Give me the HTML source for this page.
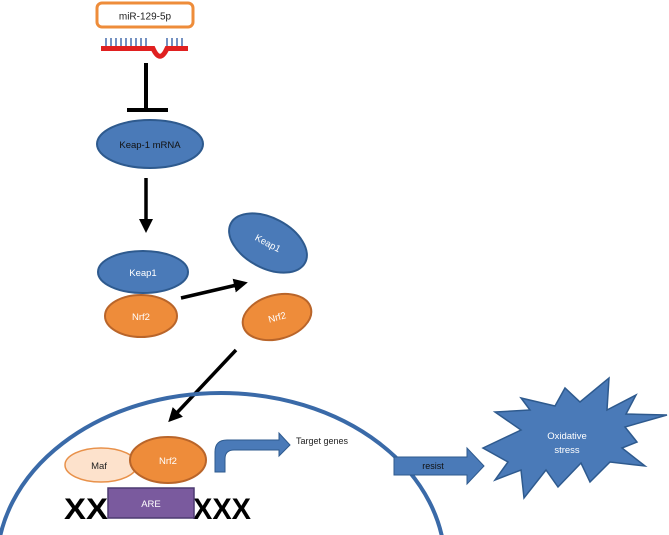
<!DOCTYPE html>
<html><head><style>html,body{margin:0;background:#fff;width:669px;height:535px;overflow:hidden}svg{display:block}</style></head><body>
<svg width="669" height="535" viewBox="0 0 669 535" xmlns="http://www.w3.org/2000/svg" font-family="Liberation Sans, sans-serif">
<defs><marker id="ah" markerWidth="4" markerHeight="4" refX="2" refY="2" orient="auto" markerUnits="strokeWidth"><path d="M0,0 L4,2 L0,4 z" fill="#000"/></marker></defs>
<rect x="97" y="3" width="96" height="24" rx="5" fill="#fff" stroke="#ee8c3a" stroke-width="3"/>
<text x="145" y="19.5" font-size="10" text-anchor="middle" fill="#222">miR-129-5p</text>
<g stroke="#2a56a0" stroke-width="1.3">
<path d="M106,46v-8M111,46v-8M116,46v-8M121,46v-8M126,46v-8M131,46v-8M136,46v-8M141,46v-8M146,46v-8M167,46v-8M172,46v-8M177,46v-8M182,46v-8"/></g>
<path d="M101,48.5 H153 Q160,64 167,48.5 H188" fill="none" stroke="#e02020" stroke-width="5"/>
<path d="M146,63 V110 M127,110 H168" stroke="#000" stroke-width="4" fill="none"/>
<ellipse cx="150" cy="144" rx="53" ry="24" fill="#4a7ab8" stroke="#2e5a8e" stroke-width="2"/>
<text x="150" y="148" font-size="9.5" text-anchor="middle" fill="#111">Keap-1 mRNA</text>
<path d="M146,178 V226" stroke="#000" stroke-width="3.5" marker-end="url(#ah)"/>
<ellipse cx="143" cy="272" rx="45" ry="21" fill="#4a7ab8" stroke="#2e5a8e" stroke-width="2"/>
<text x="143" y="276" font-size="9.5" text-anchor="middle" fill="#fff">Keap1</text>
<ellipse cx="141" cy="316" rx="36" ry="21" fill="#ee8c3a" stroke="#b9652a" stroke-width="2"/>
<text x="141" y="320" font-size="9.5" text-anchor="middle" fill="#fff">Nrf2</text>
<path d="M181,298 L241,284" stroke="#000" stroke-width="3.5" marker-end="url(#ah)"/>
<g transform="translate(268,243) rotate(28)"><ellipse rx="42" ry="25" fill="#4a7ab8" stroke="#2e5a8e" stroke-width="2"/><text y="3.5" font-size="9.5" text-anchor="middle" fill="#fff">Keap1</text></g>
<g transform="translate(277,317) rotate(-15)"><ellipse rx="35" ry="22" fill="#ee8c3a" stroke="#b9652a" stroke-width="2"/><text y="3.5" font-size="9.5" text-anchor="middle" fill="#fff">Nrf2</text></g>
<path d="M236,350 L173,417" stroke="#000" stroke-width="3.5" marker-end="url(#ah)"/>
<ellipse cx="221" cy="565" rx="224" ry="172" fill="none" stroke="#3a6aa8" stroke-width="4"/>
<text x="86" y="519" font-size="30" font-weight="bold" fill="#000" text-anchor="middle" textLength="44" lengthAdjust="spacingAndGlyphs">XX</text>
<text x="222" y="519" font-size="30" font-weight="bold" fill="#000" text-anchor="middle" textLength="58" lengthAdjust="spacingAndGlyphs">XXX</text>
<rect x="108" y="488" width="86" height="30" fill="#7a5a9e" stroke="#4c3a70" stroke-width="1.5"/>
<text x="151" y="507" font-size="9.5" text-anchor="middle" fill="#fff">ARE</text>
<ellipse cx="101" cy="465" rx="36" ry="17" fill="#fde2cc" stroke="#e8914a" stroke-width="1.5"/>
<text x="99" y="469" font-size="9.5" text-anchor="middle" fill="#222">Maf</text>
<ellipse cx="168" cy="460" rx="38" ry="23" fill="#ee8c3a" stroke="#b9652a" stroke-width="2"/>
<text x="168" y="464" font-size="9.5" text-anchor="middle" fill="#fff">Nrf2</text>
<path d="M215,472 V452 Q215,440 227,440 H279 V433 L290,445 L279,456 V450 H234 Q225,450 225,459 V472 Z" fill="#4a7ab8" stroke="#2e5a8e" stroke-width="1"/>
<text x="296" y="444" font-size="9" fill="#222">Target genes</text>
<path d="M394,457 H467 V448 L484,466 L467,484 V475 H394 Z" fill="#4a7ab8" stroke="#2e5a8e" stroke-width="1"/>
<text x="433" y="469" font-size="9" text-anchor="middle" fill="#111">resist</text>
<path d="M483,448 L521,430 L495,412 L530,410 L521,398 L555,406 L565,388 L580,402 L609,378 L607,410 L636,395 L626,414 L667,415 L625,427 L637,442 L622,448 L645,466 L610,462 L590,482 L581,463 L558,487 L546,470 L524,498 L521,470 L495,480 L508,462 Z" fill="#4a7ab8" stroke="#2e5a8e" stroke-width="1.5"/>
<text x="567" y="439" font-size="9.5" text-anchor="middle" fill="#fff">Oxidative</text>
<text x="567" y="453" font-size="9.5" text-anchor="middle" fill="#fff">stress</text>
</svg>
</body></html>
